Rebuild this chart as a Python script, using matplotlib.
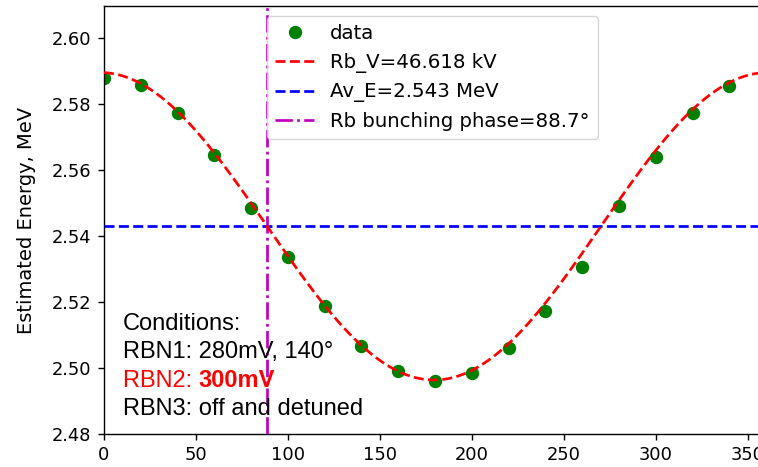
import numpy as np
import matplotlib
matplotlib.use("Agg")
import matplotlib.pyplot as plt

# measured energy vs RF phase of the rebuncher
phase_deg = [0, 20, 40, 60, 80, 100, 120, 140, 160, 180, 200, 220, 240, 260, 280, 300, 320, 340]
energy_mev = [2.5879, 2.5858, 2.5774, 2.5646, 2.5486, 2.5336, 2.5189, 2.5067, 2.4991,
              2.4961, 2.4985, 2.5060, 2.5174, 2.5306, 2.5491, 2.5640, 2.5773, 2.5855]

# fit results
rb_v_kv = 46.618
av_e_mev = 2.543
bunch_phase = 88.7
fit_period = 363.0

conditions = ["Conditions:", "RBN1: 280mV, 140\u00b0", "RBN2: ", "300mV", "RBN3: off and detuned"]

plt.rcParams.update({
    "font.size": 12.9,
    "lines.linewidth": 1.95,
    "lines.markersize": 8.6,
    "axes.linewidth": 1.0,
    "xtick.major.size": 4.5,
    "ytick.major.size": 4.5,
    "xtick.major.width": 1.0,
    "ytick.major.width": 1.0,
    "xtick.major.pad": 4.5,
    "ytick.major.pad": 4.5,
})

fig = plt.figure(figsize=(7.58, 4.67), dpi=100)
ax = fig.add_axes([0.1372, 0.0707, 0.8662, 0.9165])

xs = np.linspace(0, 360, 361)
fit = av_e_mev + rb_v_kv / 1000.0 * np.cos(2 * np.pi * (xs - bunch_phase) / fit_period + np.pi / 2)

ax.plot(phase_deg, energy_mev, "go", label="data", zorder=2)
ax.plot(xs, fit, "r--", label="Rb_V=%.3f kV" % rb_v_kv, zorder=4)
ax.axhline(av_e_mev, color="b", ls="--", label="Av_E=%.3f MeV" % av_e_mev, zorder=3)
ax.axvline(bunch_phase, color="m", ls="-.", label="Rb bunching phase=%.1f\u00b0" % bunch_phase, zorder=3)

ax.set_xlim(0, 357)
ax.set_ylim(2.48, 2.6098)
ax.set_xticks(np.arange(0, 351, 50))
ax.set_yticks(np.arange(2.48, 2.601, 0.02))
ax.yaxis.set_major_formatter(matplotlib.ticker.FormatStrFormatter("%.2f"))
ax.set_ylabel("Estimated Energy, MeV", fontsize=14)
ax.yaxis.set_label_coords(-0.104, 0.5)

ax.legend(loc="upper center", fontsize=14.2)

tkw = dict(transform=ax.transAxes, fontsize=17, family="Liberation Sans", va="center", ha="left")
x0 = 0.029
ax.text(x0, 0.257, conditions[0], **tkw)
ax.text(x0, 0.1916, conditions[1], **tkw)
t2 = ax.text(x0, 0.1238, conditions[2], color="red", **tkw)
ax.annotate(conditions[3], xy=(1, 0), xycoords=t2, va="bottom", ha="left",
            color="red", fontweight="bold", fontsize=17, family="Liberation Sans")
ax.text(x0, 0.0584, conditions[4], **tkw)

fig.savefig("out.png", dpi=100)
